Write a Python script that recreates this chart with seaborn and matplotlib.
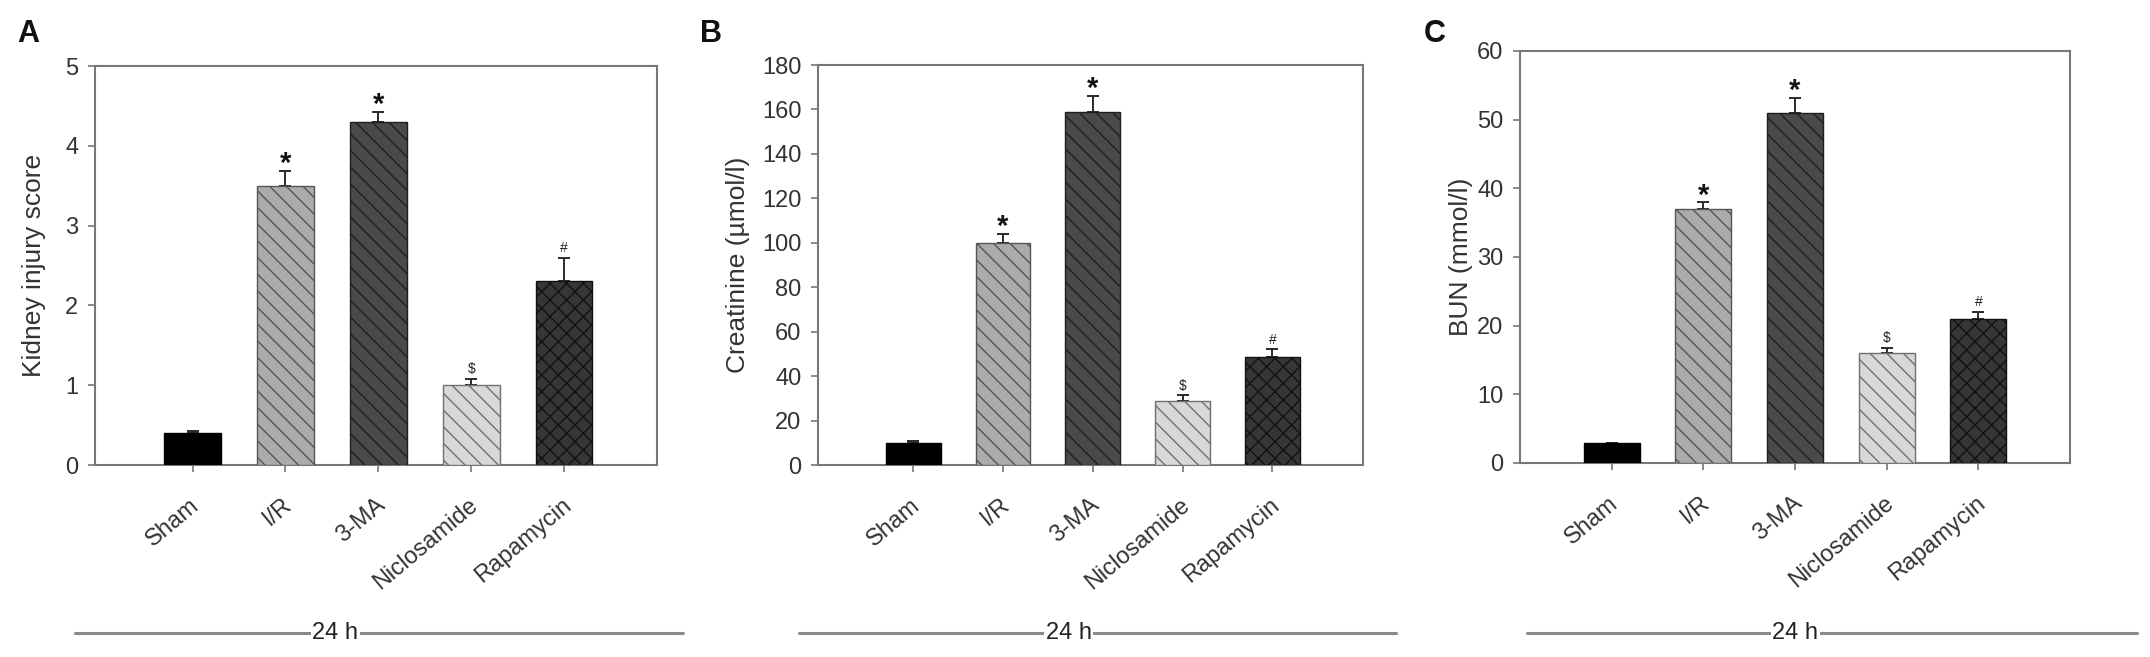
import numpy as np
import pandas as pd
import matplotlib
matplotlib.use("Agg")
import matplotlib.pyplot as plt
import matplotlib.transforms as mtransforms
from matplotlib.lines import Line2D
import seaborn as sns

# groups and values
groups = ["Sham", "I/R", "3-MA", "Niclosamide", "Rapamycin"]

injury_mean = [0.40, 3.50, 4.30, 1.00, 2.30]
injury_err = [0.03, 0.19, 0.12, 0.08, 0.30]

creat_mean = [9.8, 99.8, 158.8, 28.8, 48.8]
creat_err = [0.8, 4.2, 7.2, 2.6, 3.3]

bun_mean = [2.9, 37.0, 51.0, 16.0, 21.0]
bun_err = [0.0, 0.95, 2.2, 0.8, 1.0]

marks = ["", "*", "*", "$", "#"]

fills = ["#000000", "#ababab", "#4a4a4a", "#d8d8d8", "#363636"]
edges = ["#000000", "#555555", "#1e1e1e", "#707070", "#111111"]
hatches = ["", "\\\\", "\\\\", "\\\\", "xx"]

sns.set_style("white")
plt.rcParams["font.family"] = ["Liberation Sans", "DejaVu Sans"]
plt.rcParams["hatch.linewidth"] = 1.0

fig = plt.figure(figsize=(21.5, 6.57), dpi=100)

panels = [
    # (rect, ylabel, ylim, yticks, means, errs, xlim, label x, letter, letter x, line span, text x)
    ([0.0442, 0.2922, 0.2614, 0.6073], "Kidney injury score", (0, 5), np.arange(0, 6, 1),
     injury_mean, injury_err, (-1.05, 5.0), -0.087, "A", 0.008, (0.0349, 0.3177), 0.156),
    ([0.3805, 0.2922, 0.2535, 0.6088], "Creatinine (\u00b5mol/l)", (0, 180), np.arange(0, 181, 20),
     creat_mean, creat_err, (-1.06, 5.01), -0.125, "B", 0.3256, (0.3716, 0.6493), 0.497),
    ([0.7070, 0.2953, 0.2558, 0.6271], "BUN (mmol/l)", (0, 60), np.arange(0, 61, 10),
     bun_mean, bun_err, (-1.0, 5.0), -0.086, "C", 0.6623, (0.7102, 0.9940), 0.835),
]

for rect, ylab, ylim, yticks, means, errs, xlim, lab_x, letter, let_x, span, txt_x in panels:
    ax = fig.add_axes(rect)
    df = pd.DataFrame({"group": groups, "value": means})
    sns.barplot(data=df, x="group", y="value", hue="group", palette=fills,
                legend=False, width=0.61, ax=ax, zorder=3)
    for patch, ec, h in zip(ax.patches, edges, hatches):
        patch.set_edgecolor(ec)
        patch.set_linewidth(1.0)
        patch.set_hatch(h)

    x = np.arange(len(groups))
    ax.errorbar(x, means, yerr=[np.zeros(len(errs)), errs], fmt="none",
                ecolor="#2a2a2a", elinewidth=1.4, capsize=4, capthick=1.4, zorder=2)

    for i, (m, e, s) in enumerate(zip(means, errs, marks)):
        if s == "*":
            ax.annotate(s, (i, m + e), xytext=(0, 5), textcoords="offset points",
                        ha="center", va="center", fontsize=21, fontweight="bold", color="#111111")
        elif s:
            ax.annotate(s, (i, m + e), xytext=(0, 7), textcoords="offset points",
                        ha="center", va="center", fontsize=10, color="#222222")

    ax.set_xlim(*xlim)
    ax.set_ylim(*ylim)
    ax.set_yticks(yticks)
    ax.set_xlabel("")
    ax.set_ylabel(ylab, fontsize=19, color="#333333")
    ax.yaxis.set_label_coords(lab_x, 0.5)

    for sp in ax.spines.values():
        sp.set_visible(True)
        sp.set_color("#777777")
        sp.set_linewidth(1.5)

    ax.tick_params(axis="y", left=True, direction="out", length=5, width=1.2,
                   color="#777777", labelsize=17, labelcolor="#333333", pad=7)
    ax.tick_params(axis="x", bottom=True, direction="out", length=5, width=1.2,
                   color="#777777", labelsize=17, labelcolor="#333333", pad=22)
    offset = mtransforms.ScaledTranslation(4 / 100, 0, fig.dpi_scale_trans)
    for lbl in ax.get_xticklabels():
        lbl.set_rotation(40)
        lbl.set_ha("right")
        lbl.set_va("center")
        lbl.set_rotation_mode("anchor")
        lbl.set_transform(lbl.get_transform() + offset)

    fig.text(let_x, 0.936, letter, fontsize=22, fontweight="bold", color="#111111")

    fig.add_artist(Line2D(list(span), [0.0365, 0.0365], transform=fig.transFigure,
                          color="#8a8a8a", linewidth=2.2))
    fig.text(txt_x, 0.0365, "24 h", ha="center", va="center", fontsize=17, color="#222222",
             bbox=dict(facecolor="white", edgecolor="none", pad=1.0))

fig.savefig("out.png", dpi=100)
